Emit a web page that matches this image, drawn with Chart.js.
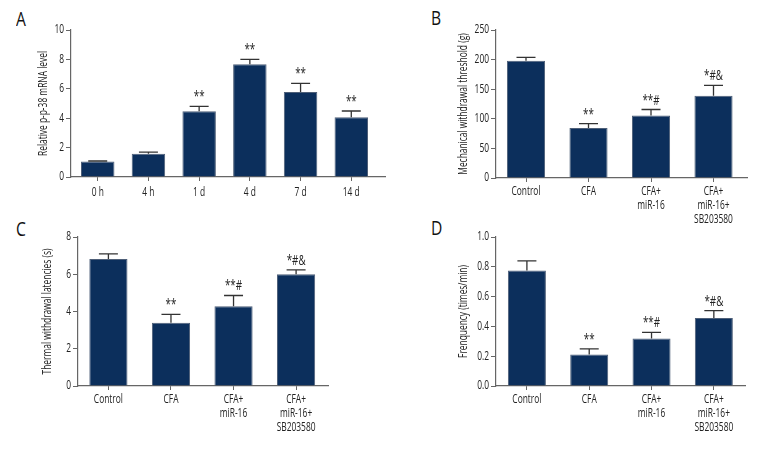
<!DOCTYPE html>
<html>
<head>
<meta charset="utf-8">
<script src="https://cdn.jsdelivr.net/npm/chart.js@4.4.1/dist/chart.umd.min.js"></script>
<style>
  html, body { margin: 0; padding: 0; background: #fff; }
  #wrap { position: relative; width: 780px; height: 456px; overflow: hidden; background: #fff; }
  canvas { position: absolute; }
  .lbl { position: absolute; font-family: "Open Sans", "Liberation Sans", sans-serif; font-size: 20px; line-height: 20px; color: #111; transform: scaleX(0.78); transform-origin: left top; }
</style>
</head>
<body>
<div id="wrap">
  <div class="lbl" style="left:16px;top:9px">A</div>
  <div class="lbl" style="left:431px;top:8px">B</div>
  <div class="lbl" style="left:16px;top:219px">C</div>
  <div class="lbl" style="left:431px;top:218px">D</div>
  <canvas id="cA" width="354" height="188" style="left:36px;top:20px"></canvas>
  <canvas id="cB" width="296" height="210" style="left:456px;top:20px"></canvas>
  <canvas id="cC" width="293" height="211" style="left:40px;top:227px"></canvas>
  <canvas id="cD" width="294" height="211" style="left:456px;top:227px"></canvas>
</div>
<script>
// ---- Data ----
const timeLabels = ['0 h', '4 h', '1 d', '4 d', '7 d', '14 d'];
const mrnaValues = [1.05, 1.58, 4.47, 7.67, 5.78, 4.06];
const mrnaErrors = [0.04, 0.11, 0.34, 0.33, 0.59, 0.43];
const mrnaMarks  = ['', '', '**', '**', '**', '**'];

const groupLabels = [['Control'], ['CFA'], ['CFA+', 'miR-16'], ['CFA+', 'miR-16+', 'SB203580']];

const mechValues = [198, 84.6, 105.5, 138.8];
const mechErrors = [5.7, 7.4, 10.2, 17.5];
const mechMarks  = ['', '**', '**#', '*#&'];

const thermValues = [6.82, 3.40, 4.28, 6.00];
const thermErrors = [0.27, 0.45, 0.58, 0.24];
const thermMarks  = ['', '**', '**#', '*#&'];

const freqValues = [0.775, 0.211, 0.319, 0.456];
const freqErrors = [0.065, 0.038, 0.041, 0.050];
const freqMarks  = ['', '**', '**#', '*#&'];

// ---- Style ----
const FONT = '"Open Sans", "Liberation Sans", sans-serif';
const SX = 0.70; // horizontal condensing of canvas text
Chart.defaults.font.family = FONT;
Chart.defaults.font.size = 12;
Chart.defaults.color = '#222';
const BAR = '#0c2f5c';
const BAR_EDGE = '#4e5f78';
const AXIS = '#666';

function condense(canvas) {
  const ctx = canvas.getContext('2d');
  const ft = CanvasRenderingContext2D.prototype.fillText;
  const mt = CanvasRenderingContext2D.prototype.measureText;
  ctx.fillText = function (text, x, y, maxWidth) {
    this.save();
    this.translate(x, y);
    this.scale(SX, 1);
    if (maxWidth !== undefined && maxWidth !== null) ft.call(this, text, 0, 0, maxWidth / SX);
    else ft.call(this, text, 0, 0);
    this.restore();
  };
  ctx.measureText = function (text) {
    const m = mt.call(this, text);
    return {
      width: m.width * SX,
      actualBoundingBoxAscent: m.actualBoundingBoxAscent,
      actualBoundingBoxDescent: m.actualBoundingBoxDescent,
      actualBoundingBoxLeft: m.actualBoundingBoxLeft * SX,
      actualBoundingBoxRight: m.actualBoundingBoxRight * SX
    };
  };
  return canvas;
}

function errPlugin(values, errors, marks) {
  return {
    id: 'errbars',
    afterDatasetsDraw(chart) {
      const ctx = chart.ctx;
      const ys = chart.scales.y;
      const meta = chart.getDatasetMeta(0);
      meta.data.forEach((bar, i) => {
        const top = ys.getPixelForValue(values[i] + errors[i]);
        ctx.save();
        ctx.strokeStyle = '#333';
        ctx.lineWidth = 1.3;
        ctx.beginPath();
        ctx.moveTo(bar.x, bar.y);
        ctx.lineTo(bar.x, top);
        ctx.moveTo(bar.x - 9.5, top);
        ctx.lineTo(bar.x + 9.5, top);
        ctx.stroke();
        if (marks[i]) {
          ctx.fillStyle = '#222';
          ctx.font = '14px ' + FONT;
          ctx.textAlign = 'center';
          ctx.textBaseline = 'alphabetic';
          ctx.fillText(marks[i], bar.x, top - 5);
        }
        ctx.restore();
      });
    }
  };
}

function makeChart(id, cfg) {
  new Chart(condense(document.getElementById(id)), {
    type: 'bar',
    data: {
      datasets: [{
        data: cfg.values.map((v, i) => ({ x: i, y: v })),
        backgroundColor: BAR,
        borderColor: BAR_EDGE,
        borderWidth: 1,
        barPercentage: cfg.barPct,
        categoryPercentage: 1
      }]
    },
    options: {
      responsive: false,
      animation: false,
      devicePixelRatio: 1,
      layout: { padding: { top: 10, right: 5, left: 0, bottom: 0 } },
      plugins: { legend: { display: false }, tooltip: { enabled: false } },
      scales: {
        x: {
          type: 'linear',
          offset: false,
          min: cfg.xmin,
          max: cfg.xmax,
          afterBuildTicks: (s) => { s.ticks = cfg.labels.map((_, i) => ({ value: i })); },
          afterFit: (s) => { s.height = cfg.xh; },
          ticks: {
            padding: cfg.xpad,
            autoSkip: false,
            maxRotation: 0,
            color: '#222',
            callback: (v) => cfg.labels[v]
          },
          grid: { drawOnChartArea: false, drawTicks: true, tickLength: 4, color: AXIS, offset: false },
          border: { color: AXIS, width: 1.2 }
        },
        y: {
          min: 0,
          max: cfg.ymax,
          afterFit: (s) => { s.width = cfg.yw; },
          ticks: {
            stepSize: cfg.step,
            padding: 2,
            color: '#222',
            callback: cfg.fmt || ((v) => v)
          },
          grid: { drawOnChartArea: false, drawTicks: true, tickLength: 5, color: AXIS },
          border: { color: AXIS, width: 1.2 },
          title: { display: true, text: cfg.title, color: '#222', padding: { top: 0, bottom: 0 } }
        }
      }
    },
    plugins: [errPlugin(cfg.values, cfg.errors, cfg.marks)]
  });
}

makeChart('cA', { labels: timeLabels, values: mrnaValues, errors: mrnaErrors, marks: mrnaMarks,
  xmin: -0.527, xmax: 5.665, barPct: 0.66, ymax: 10, step: 2, yw: 35, xh: 31, xpad: 4,
  title: 'Relative p-p-38 mRNA level' });
makeChart('cB', { labels: groupLabels, values: mechValues, errors: mechErrors, marks: mechMarks,
  xmin: -0.48, xmax: 3.536, barPct: 0.61, ymax: 250, step: 50, yw: 40, xh: 52, xpad: 2,
  title: 'Mechanical withdrawal threshold (g)' });
makeChart('cC', { labels: groupLabels, values: thermValues, errors: thermErrors, marks: thermMarks,
  xmin: -0.486, xmax: 3.51, barPct: 0.61, ymax: 8, step: 2, yw: 38, xh: 52, xpad: 2,
  title: 'Thermal withdrawal latencies (s)' });
makeChart('cD', { labels: groupLabels, values: freqValues, errors: freqErrors, marks: freqMarks,
  xmin: -0.496, xmax: 3.50, barPct: 0.61, ymax: 1.0, step: 0.2, yw: 40, xh: 52, xpad: 2,
  fmt: (v) => Number(v).toFixed(1),
  title: 'Frenquency (times/min)' });
</script>
</body>
</html>
